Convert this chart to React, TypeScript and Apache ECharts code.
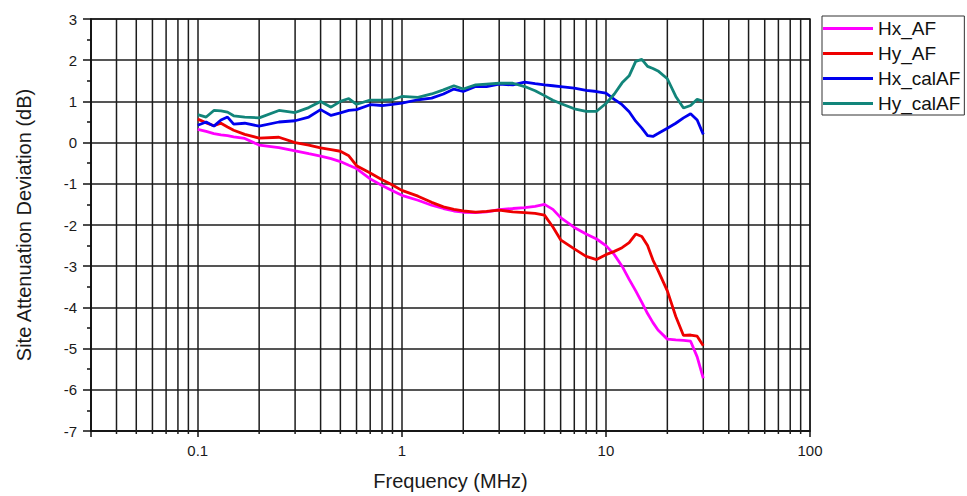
import React, { useEffect, useRef } from "react";
import * as echarts from "echarts";

const seriesNames = ["Hx_AF", "Hy_AF", "Hx_calAF", "Hy_calAF"];
const seriesColors = ["#ff00ff", "#ee0000", "#0000ee", "#12857a"];

const freqs = [
  0.1, 0.11, 0.12, 0.13, 0.14, 0.15, 0.17,
  0.2, 0.25, 0.3, 0.35, 0.4, 0.45, 0.5, 0.55, 0.6, 0.7, 0.8, 0.9,
  1, 1.2, 1.4, 1.6, 1.8, 2, 2.3, 2.6, 3, 3.5, 4, 4.5, 5, 5.5, 6, 7, 8, 9,
  10, 11, 12, 13, 14, 15, 16, 17, 18, 20, 22, 24, 26, 28, 30,
];

const hxAF = [
  0.32, 0.27, 0.22, 0.19, 0.17, 0.14, 0.1,
  -0.06, -0.12, -0.2, -0.27, -0.33, -0.39, -0.46, -0.55, -0.63, -0.88, -1.04, -1.17,
  -1.28, -1.4, -1.52, -1.6, -1.66, -1.69, -1.7, -1.68, -1.63, -1.6, -1.58, -1.55, -1.5, -1.62, -1.82, -2.06, -2.22, -2.34,
  -2.5, -2.72, -3.0, -3.32, -3.6, -3.88, -4.15, -4.37, -4.55, -4.77, -4.79, -4.8, -4.82, -5.2, -5.72,
];

const hyAF = [
  0.57, 0.48, 0.41, 0.47, 0.38, 0.3, 0.2,
  0.11, 0.13, 0.0, -0.06, -0.13, -0.17, -0.21, -0.32, -0.56, -0.74, -0.9, -1.03,
  -1.16, -1.3, -1.45, -1.56, -1.62, -1.66, -1.69, -1.67, -1.64, -1.68, -1.7, -1.72, -1.76, -2.05, -2.36, -2.58, -2.76, -2.84,
  -2.72, -2.64, -2.55, -2.43, -2.22, -2.28, -2.5, -2.85, -3.1, -3.6, -4.22, -4.68, -4.67, -4.7, -4.93,
];

const hxCalAF = [
  0.42, 0.5, 0.4, 0.55, 0.62, 0.45, 0.47,
  0.4, 0.5, 0.53, 0.62, 0.8, 0.66, 0.72, 0.78, 0.8, 0.92, 0.9, 0.93,
  0.96, 1.04, 1.08, 1.18, 1.3, 1.24, 1.36, 1.36, 1.42, 1.4, 1.47, 1.43, 1.4, 1.38, 1.36, 1.32, 1.27, 1.24,
  1.2, 1.05, 0.92, 0.75, 0.52, 0.35, 0.17, 0.15, 0.22, 0.35, 0.47, 0.6, 0.7, 0.55, 0.2,
];

const hyCalAF = [
  0.68, 0.62, 0.78, 0.77, 0.74, 0.65, 0.62,
  0.6, 0.78, 0.73, 0.85, 1.0, 0.86, 1.0, 1.07, 0.93, 1.03, 1.03, 1.04,
  1.12, 1.1, 1.18, 1.28, 1.38, 1.3, 1.4, 1.42, 1.44, 1.44, 1.36, 1.26, 1.14, 1.03, 0.95, 0.82, 0.76, 0.76,
  0.95, 1.18, 1.45, 1.62, 1.97, 2.02, 1.85, 1.8, 1.74, 1.55, 1.12, 0.84, 0.9, 1.05, 1.0,
];

const seriesValues = [hxAF, hyAF, hxCalAF, hyCalAF];

// minor log gridline positions (2..9 of each decade inside the axis range)
const minorFreqs = [
  0.04, 0.05, 0.06, 0.07, 0.08, 0.09,
  0.2, 0.3, 0.4, 0.5, 0.6, 0.7, 0.8, 0.9,
  2, 3, 4, 5, 6, 7, 8, 9,
  20, 30, 40, 50, 60, 70, 80, 90,
];

const xMin = 0.03;
const xMax = 100;
const yMin = -7;
const yMax = 3;

const FONT = "'Liberation Sans', Arial, sans-serif";
const GRID_COLOR = "#1c1c1c";

export default function App() {
  const ref = useRef<HTMLDivElement>(null);

  useEffect(() => {
    if (!ref.current) return;
    const chart = echarts.init(ref.current, undefined, { renderer: "svg" });

    const lineSeries = seriesNames.map((name, i) => ({
      name,
      type: "line",
      data: freqs.map((f, j) => [f, seriesValues[i][j]]),
      showSymbol: false,
      symbol: "none",
      lineStyle: { color: seriesColors[i], width: 2.8 },
      itemStyle: { color: seriesColors[i] },
      z: 5,
    }));

    const minorLines = {
      name: "minorGrid",
      type: "custom",
      silent: true,
      clip: false,
      z: 1,
      data: minorFreqs.map((f) => [f, 0]),
      renderItem: (_params: any, api: any) => {
        const f = api.value(0);
        const top = api.coord([f, yMax]);
        const bot = api.coord([f, yMin]);
        return {
          type: "line",
          shape: { x1: top[0], y1: top[1], x2: bot[0], y2: bot[1] + 3 },
          style: { stroke: GRID_COLOR, lineWidth: 1.5 },
        };
      },
    };

    chart.setOption({
      animation: false,
      backgroundColor: "#ffffff",
      textStyle: { fontFamily: FONT },
      grid: {
        left: 91,
        right: 157,
        top: 19,
        bottom: 64,
        show: true,
        borderColor: GRID_COLOR,
        borderWidth: 1.5,
      },
      legend: {
        orient: "vertical",
        left: 822,
        top: 16,
        data: seriesNames,
        icon: "rect",
        itemWidth: 50,
        itemHeight: 3,
        itemGap: 6,
        itemTextGap: 5,
        padding: [3, 4, 2, 1],
        borderColor: "#333",
        borderWidth: 1,
        backgroundColor: "#fff",
        textStyle: {
          fontFamily: FONT,
          fontSize: 19,
          lineHeight: 19,
          color: "#111",
        },
      },
      xAxis: {
        type: "log",
        logBase: 10,
        min: xMin,
        max: xMax,
        name: "Frequency (MHz)",
        nameLocation: "middle",
        nameGap: 40,
        nameTextStyle: { fontFamily: FONT, fontSize: 20, color: "#1a1a1a" },
        axisLine: { show: true, onZero: false, lineStyle: { color: "#111", width: 1.5 } },
        axisTick: { show: true, inside: false, length: 6, lineStyle: { color: "#111", width: 1.5 } },
        axisLabel: {
          fontFamily: FONT,
          fontSize: 15,
          color: "#1a1a1a",
          margin: 12,
          formatter: (v: number) => {
            const l = Math.log10(v);
            return Math.abs(l - Math.round(l)) < 1e-6 ? String(v) : "";
          },
        },
        splitLine: { show: true, lineStyle: { color: GRID_COLOR, width: 1.5 } },
      },
      yAxis: {
        type: "value",
        min: yMin,
        max: yMax,
        interval: 1,
        name: "Site Attenuation Deviation (dB)",
        nameLocation: "middle",
        nameGap: 57,
        nameTextStyle: { fontFamily: FONT, fontSize: 20, color: "#1a1a1a" },
        axisLine: { show: true, onZero: false, lineStyle: { color: "#111", width: 1.5 } },
        axisTick: { show: true, inside: false, length: 8, lineStyle: { color: "#111", width: 1.5 } },
        minorTick: { show: true, splitNumber: 2, length: 4, lineStyle: { color: "#111", width: 1.5 } },
        axisLabel: {
          fontFamily: FONT,
          fontSize: 15,
          color: "#1a1a1a",
          margin: 14,
        },
        splitLine: { show: true, lineStyle: { color: GRID_COLOR, width: 1.5 } },
      },
      series: [minorLines, ...lineSeries],
    });

    return () => chart.dispose();
  }, []);

  return (
    <div
      ref={ref}
      style={{ position: "fixed", left: 0, top: 0, width: 967, height: 496, background: "#fff" }}
    />
  );
}
